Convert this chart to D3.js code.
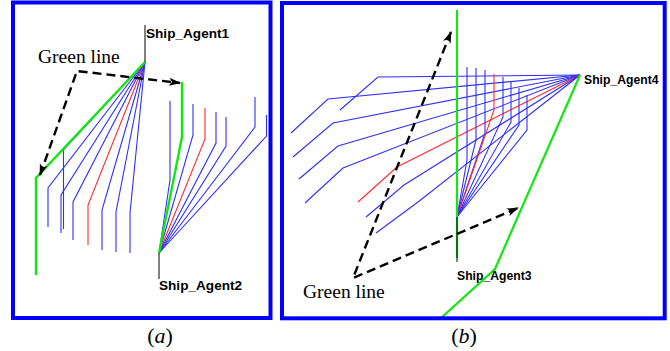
<!DOCTYPE html>
<html><head><meta charset="utf-8">
<script src="https://cdn.jsdelivr.net/npm/d3@7/dist/d3.min.js"></script>
<style>body{margin:0;background:#fff}svg{display:block}</style>
</head><body>
<svg id="c" width="670" height="351"></svg>
<script>
// ---------- DATA (panel-local diagram coordinates) ----------
// Panel (a)
const agentA1 = [133, 59];
const agentA2 = [147, 250];
const greenA1 = [[133, 59], [24, 175], [24, 272]];
const greenA2 = [[170, 79], [170, 134], [147, 250]];
// fan from Ship_Agent1: [kneeX, kneeY, endY, isRed]
const fanA1 = [
  [51.5, 147, 226, 0], [36, 185, 224, 0], [49, 192, 230, 0], [61, 199, 237, 0],
  [76, 202, 242, 1], [90, 207, 247, 0], [104, 209, 249, 0], [118, 210, 250, 0]
];
// fan from Ship_Agent2: [kneeX, kneeY, topY, isRed]
const fanA2 = [
  [158, 177, 98, 0], [181, 132, 101, 0], [193, 136, 105, 1], [204, 140, 109, 0],
  [214, 143, 114, 0], [243, 124, 94, 0], [254.5, 133, 112, 0]
];
const dashA = [[28, 172], [65, 68], [168, 80]];
const labelsA = [{t: "Ship_Agent1", x: 134, y: 35, from: [133, 59], to: [133, 22]},
                 {t: "Ship_Agent2", x: 147, y: 287, from: [147, 250], to: [147, 276]}];
const textA = {t: "Green line", x: 26, y: 60};

// Panel (b)
const agentB4 = [298, 72];
const agentB3 = [175, 214];
const greenB3 = [[175, 7], [175, 255]];
const greenB4 = [[298, 72], [213, 266], [159, 315]];
// fan from Ship_Agent4: [kneeX, kneeY, endX, endY, isRed]
const fanB4 = [
  [96, 74, 58, 107, 0], [46, 96, 9, 130, 0], [51, 120, 11, 154, 0], [56, 143, 17, 176, 0],
  [61, 165, 23, 200, 0], [115, 164, 76, 199, 1], [122, 182, 84, 214, 0], [136, 199, 94, 230, 0]
];
// fan from Ship_Agent3: [kneeX, kneeY, topY, isRed]
const fanB3 = [
  [185, 157, 64, 0], [194, 137, 65, 0], [203, 130, 67, 0], [212, 107, 71, 1],
  [221, 114, 74, 0], [229, 119, 79, 0], [237, 122, 85, 0], [245, 127, 92, 0]
];
const dashB = [[169, 29], [71, 275], [236, 205]];
const labelsB = [{t: "Ship_Agent4", x: 302, y: 81, from: null},
                 {t: "Ship_Agent3", x: 175, y: 277, from: [175, 214], to: [175, 259]}];
const textB = {t: "Green line", x: 21, y: 295};

const captions = ["a", "b"];

// ---------- DRAW ----------
const svg = d3.select("#c");
const BLUE = "#2f2fff", RED = "#ff2a2a", GREEN = "#14e614";

const defs = svg.append("defs");
defs.append("marker").attr("id", "ah").attr("viewBox", "0 0 12 10")
  .attr("refX", 11).attr("refY", 5).attr("markerWidth", 12).attr("markerHeight", 10)
  .attr("markerUnits", "userSpaceOnUse").attr("orient", "auto-start-reverse")
  .append("path").attr("d", "M0,1 L12,5 L0,9 L3,5 Z").attr("fill", "#000");

function panel(cfg) {
  const x = d3.scaleLinear().domain([0, cfg.w]).range([cfg.x0, cfg.x0 + cfg.w]);
  const y = d3.scaleLinear().domain([0, cfg.h]).range([cfg.y0, cfg.y0 + cfg.h]);
  const g = svg.append("g");
  const line = d3.line().x(d => x(d[0])).y(d => y(d[1]));
  return {x, y, g, line};
}

// Panel (a)
{
  const P = panel({x0: 12, y0: 3, w: 259, h: 315});
  const {x, y, g, line} = P;
  fanA1.forEach(d => {
    g.append("path").attr("d", line([agentA1, [d[0], d[1]], [d[0], d[2]]]))
      .attr("fill", "none").attr("stroke", d[3] ? RED : BLUE).attr("stroke-width", 1.1);
  });
  fanA2.forEach(d => {
    g.append("path").attr("d", line([agentA2, [d[0], d[1]], [d[0], d[2]]]))
      .attr("fill", "none").attr("stroke", d[3] ? RED : BLUE).attr("stroke-width", 1.1);
  });
  [greenA1, greenA2].forEach(p => g.append("path").attr("d", line(p))
    .attr("fill", "none").attr("stroke", GREEN).attr("stroke-width", 2.4));
  labelsA.forEach(l => {
    if (l.from) g.append("line").attr("x1", x(l.from[0])).attr("y1", y(l.from[1]))
      .attr("x2", x(l.to[0])).attr("y2", y(l.to[1])).attr("stroke", "#000").attr("stroke-width", 1);
    g.append("text").attr("x", x(l.x)).attr("y", y(l.y)).text(l.t)
      .attr("font-family", "Liberation Sans, Arial, sans-serif").attr("font-weight", "bold")
      .attr("font-size", 13.6).attr("fill", "#000");
  });
  g.append("path").attr("d", line(dashA)).attr("fill", "none").attr("stroke", "#000")
    .attr("stroke-width", 2.4).attr("stroke-dasharray", "9,5")
    .attr("marker-start", "url(#ah)").attr("marker-end", "url(#ah)");
  g.append("text").attr("x", x(textA.x)).attr("y", y(textA.y)).text(textA.t)
    .attr("font-family", "Liberation Serif, Times New Roman, serif").attr("font-size", 19.5).attr("fill", "#000");
  svg.append("rect").attr("x", 13).attr("y", 2.5).attr("width", 257.5).attr("height", 315.5)
    .attr("fill", "none").attr("stroke", "#0000ff").attr("stroke-width", 4);
}

// Panel (b)
{
  const P = panel({x0: 282, y0: 3, w: 383, h: 315});
  const {x, y, g, line} = P;
  fanB4.forEach(d => {
    g.append("path").attr("d", line([agentB4, [d[0], d[1]], [d[2], d[3]]]))
      .attr("fill", "none").attr("stroke", d[4] ? RED : BLUE).attr("stroke-width", 1.1);
  });
  fanB3.forEach(d => {
    g.append("path").attr("d", line([agentB3, [d[0], d[1]], [d[0], d[2]]]))
      .attr("fill", "none").attr("stroke", d[3] ? RED : BLUE).attr("stroke-width", 1.1);
  });
  [greenB3, greenB4].forEach(p => g.append("path").attr("d", line(p))
    .attr("fill", "none").attr("stroke", GREEN).attr("stroke-width", 2.2));
  labelsB.forEach(l => {
    if (l.from) g.append("line").attr("x1", x(l.from[0])).attr("y1", y(l.from[1]))
      .attr("x2", x(l.to[0])).attr("y2", y(l.to[1])).attr("stroke", "#000").attr("stroke-width", 1);
    g.append("text").attr("x", x(l.x)).attr("y", y(l.y)).text(l.t)
      .attr("font-family", "Liberation Sans, Arial, sans-serif").attr("font-weight", "bold")
      .attr("font-size", 12.2).attr("fill", "#000");
  });
  g.append("path").attr("d", line(dashB)).attr("fill", "none").attr("stroke", "#000")
    .attr("stroke-width", 2.4).attr("stroke-dasharray", "9,5")
    .attr("marker-start", "url(#ah)").attr("marker-end", "url(#ah)");
  g.append("text").attr("x", x(textB.x)).attr("y", y(textB.y)).text(textB.t)
    .attr("font-family", "Liberation Serif, Times New Roman, serif").attr("font-size", 19.5).attr("fill", "#000");
  svg.append("rect").attr("x", 282).attr("y", 3).attr("width", 382.7).attr("height", 315.3)
    .attr("fill", "none").attr("stroke", "#0000ff").attr("stroke-width", 4);
}

// captions
[[160, captions[0]], [464, captions[1]]].forEach(([cx, c]) => {
  const t = svg.append("text").attr("x", cx).attr("y", 343).attr("text-anchor", "middle")
    .attr("font-family", "Liberation Serif, Times New Roman, serif").attr("font-size", 22).attr("fill", "#000");
  t.append("tspan").text("(");
  t.append("tspan").attr("font-style", "italic").text(c);
  t.append("tspan").text(")");
});
</script>
</body></html>
